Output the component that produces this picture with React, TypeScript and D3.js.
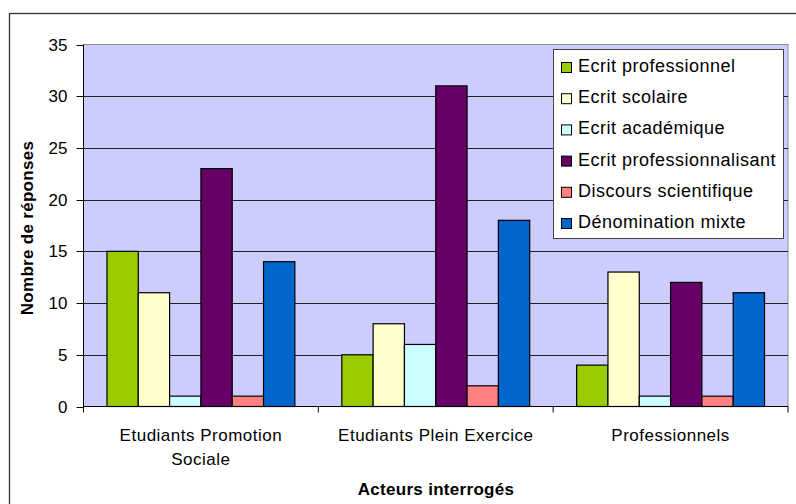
import * as d3 from "d3"

const categories = ["Etudiants Promotion Sociale", "Etudiants Plein Exercice", "Professionnels"]
const categoryLines = [["Etudiants Promotion", "Sociale"], ["Etudiants Plein Exercice"], ["Professionnels"]]
const seriesNames = [
  "Ecrit professionnel",
  "Ecrit scolaire",
  "Ecrit académique",
  "Ecrit professionnalisant",
  "Discours scientifique",
  "Dénomination mixte",
]
const seriesColors = ["#99cc00", "#ffffcc", "#ccffff", "#660066", "#ff8080", "#0066cc"]
// values per series, one per category
const ecritPro = [15, 5, 4]
const ecritScolaire = [11, 8, 13]
const ecritAcad = [1, 6, 1]
const ecritProfessionnalisant = [23, 31, 12]
const discoursSci = [1, 2, 1]
const denomMixte = [14, 18, 11]
const seriesValues = [ecritPro, ecritScolaire, ecritAcad, ecritProfessionnalisant, discoursSci, denomMixte]
const yTicks = [0, 5, 10, 15, 20, 25, 30, 35]

const W = 796, H = 504
const plot = { left: 83.5, right: 788, top: 44.5, bottom: 406.5 }
const font = "'Liberation Sans', Arial, sans-serif"

export default function App() {
  const x0 = d3.scaleBand<string>().domain(categories).range([plot.left, plot.right]).padding(0)
  const bw = x0.bandwidth()
  // Excel gap width 150%: 6 bars + 1.5 bars gap
  const x1 = d3.scaleBand<string>().domain(seriesNames)
    .range([0.75 * bw / 7.5, bw - 0.75 * bw / 7.5]).padding(0)
  const y = d3.scaleLinear().domain([0, 35]).range([plot.bottom, plot.top])

  return (
    <div style={{ position: "fixed", left: 0, top: 0 }}>
      <svg width={W} height={H} style={{ display: "block", background: "#fff" }} fontFamily={font}>
        <rect x={9.5} y={13.5} width={800} height={500} fill="#fff" stroke="#333" strokeWidth={1.3} />
        <rect x={plot.left} y={plot.top} width={plot.right - plot.left} height={plot.bottom - plot.top}
          fill="#ccccff" stroke="#909090" strokeWidth={1} />
        {yTicks.filter(t => t > 0 && t < 35).map(t => (
          <line key={t} x1={plot.left} x2={plot.right} y1={Math.round(y(t)) + 0.5} y2={Math.round(y(t)) + 0.5}
            stroke="#222" strokeWidth={1} />
        ))}
        {categories.map((c, ci) => (
          <g key={c}>
            {seriesNames.map((s, si) => {
              const bx = (x0(c) ?? 0) + (x1(s) ?? 0)
              const v = seriesValues[si][ci]
              return <rect key={s} x={bx} y={y(v)} width={x1.bandwidth()} height={y(0) - y(v)}
                fill={seriesColors[si]} stroke="#000" strokeWidth={1.2} />
            })}
          </g>
        ))}
        {/* y axis */}
        <line x1={plot.left} x2={plot.left} y1={plot.top} y2={plot.bottom} stroke="#000" />
        {yTicks.map(t => (
          <g key={t}>
            <line x1={plot.left - 7} x2={plot.left} y1={Math.round(y(t)) + 0.5} y2={Math.round(y(t)) + 0.5} stroke="#000" />
            <text x={67.5} y={y(t) + 6} textAnchor="end" fontSize={17} fill="#000">{t}</text>
          </g>
        ))}
        {/* x axis */}
        <line x1={plot.left} x2={plot.right} y1={plot.bottom} y2={plot.bottom} stroke="#000" />
        {[...categories.map(c => x0(c) ?? 0), plot.right].map((tx, i) => (
          <line key={i} x1={tx} x2={tx} y1={plot.bottom} y2={plot.bottom + 6} stroke="#000" />
        ))}
        {categories.map((c, ci) => (
          <text key={c} x={(x0(c) ?? 0) + bw / 2} y={441} textAnchor="middle" fontSize={17} letterSpacing={0.5} fill="#000">
            {categoryLines[ci].map((l, li) => (
              <tspan key={li} x={(x0(c) ?? 0) + bw / 2} dy={li === 0 ? 0 : 24}>{l}</tspan>
            ))}
          </text>
        ))}
        <text x={436} y={495} textAnchor="middle" fontSize={17} fontWeight="bold" letterSpacing={0.3}>Acteurs interrogés</text>
        <text transform={`translate(33,228) rotate(-90)`} textAnchor="middle" fontSize={17} fontWeight="bold" letterSpacing={0.3}>
          Nombre de réponses
        </text>
        {/* legend */}
        <rect x={553.5} y={49.5} width={230} height={189} fill="#fff" stroke="#444" strokeWidth={1} />
        {seriesNames.map((s, i) => (
          <g key={s} transform={`translate(0,${i * 31.2})`}>
            <rect x={561.5} y={62.5} width={10} height={10} fill={seriesColors[i]} stroke="#000" strokeWidth={1} />
            <text x={578} y={72} fontSize={18} letterSpacing={0.5} fill="#000">{s}</text>
          </g>
        ))}
      </svg>
    </div>
  )
}
